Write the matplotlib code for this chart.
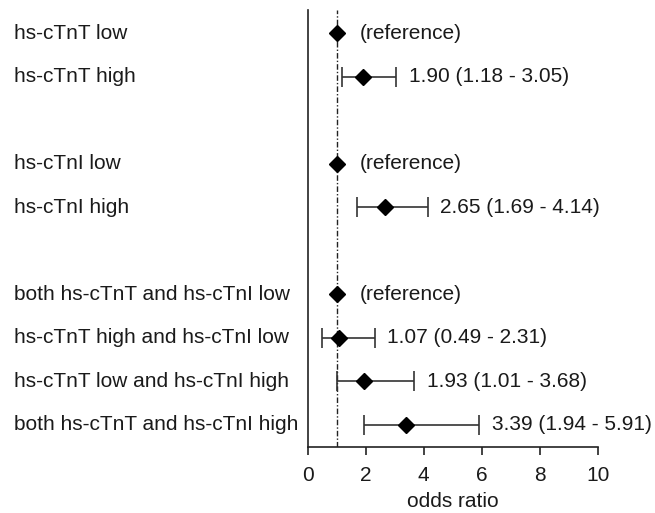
import matplotlib
matplotlib.use("Agg")
import matplotlib.pyplot as plt
from matplotlib.transforms import blended_transform_factory

plt.rcParams['font.family'] = ['Liberation Sans', 'DejaVu Sans']

labels = ["hs-cTnT low", "hs-cTnT high", "hs-cTnI low", "hs-cTnI high",
          "both hs-cTnT and hs-cTnI low", "hs-cTnT high and hs-cTnI low",
          "hs-cTnT low and hs-cTnI high", "both hs-cTnT and hs-cTnI high"]
positions = [0, 1, 3, 4, 6, 7, 8, 9]
odds = [1.00, 1.90, 1.00, 2.65, 1.00, 1.07, 1.93, 3.39]
lower = [None, 1.18, None, 1.69, None, 0.49, 1.01, 1.94]
upper = [None, 3.05, None, 4.14, None, 2.31, 3.68, 5.91]
xticks = [0, 2, 4, 6, 8, 10]

FS = 15
TC = '#1a1a1a'
fig = plt.figure(figsize=(6.55, 5.13), dpi=100)
ax = fig.add_axes([0.4695, 0.1296, 0.4437, 0.851])

ax.axvline(1, color='#222222', lw=1.0, linestyle=(0, (4, 1.5, 1, 1.5)), zorder=1)

for y, o, lo, hi in zip(positions, odds, lower, upper):
    if lo is None:
        ax.plot([o], [y], marker='D', color='black', markersize=8.5, zorder=3)
        ax.annotate("(reference)", xy=(o, y), xytext=(17, 0), textcoords='offset points',
                    va='center', ha='left', fontsize=FS, color=TC)
    else:
        ax.errorbar([o], [y], xerr=[[o - lo], [hi - o]], fmt='D', color='black',
                    markersize=8.5, ecolor='#333333', elinewidth=1.2, capsize=7,
                    capthick=1.2, zorder=3)
        ax.annotate(f"{o:.2f} ({lo:.2f} - {hi:.2f})", xy=(hi, y), xytext=(9, 0),
                    textcoords='offset points', va='center', ha='left', fontsize=FS,
                    color=TC)

trans = blended_transform_factory(fig.transFigure, ax.transData)
for y, lab in zip(positions, labels):
    ax.text(14 / 655, y, lab, transform=trans, ha='left', va='center',
            fontsize=FS, clip_on=False, color=TC)

ax.set_xlim(0, 10)
ax.set_ylim(9.5, -0.53)
ax.set_xticks(xticks)
ax.set_xticklabels([str(t) for t in xticks], fontsize=FS, color=TC)
ax.set_yticks([])
ax.tick_params(axis='x', length=6, width=1.2, direction='out', pad=8, color='#222222')
ax.spines['top'].set_visible(False)
ax.spines['right'].set_visible(False)
for s in ['left', 'bottom']:
    ax.spines[s].set_linewidth(1.2)
    ax.spines[s].set_color('#222222')
ax.set_xlabel("odds ratio", fontsize=FS, labelpad=5, color=TC)

fig.savefig("out.png", dpi=100)
